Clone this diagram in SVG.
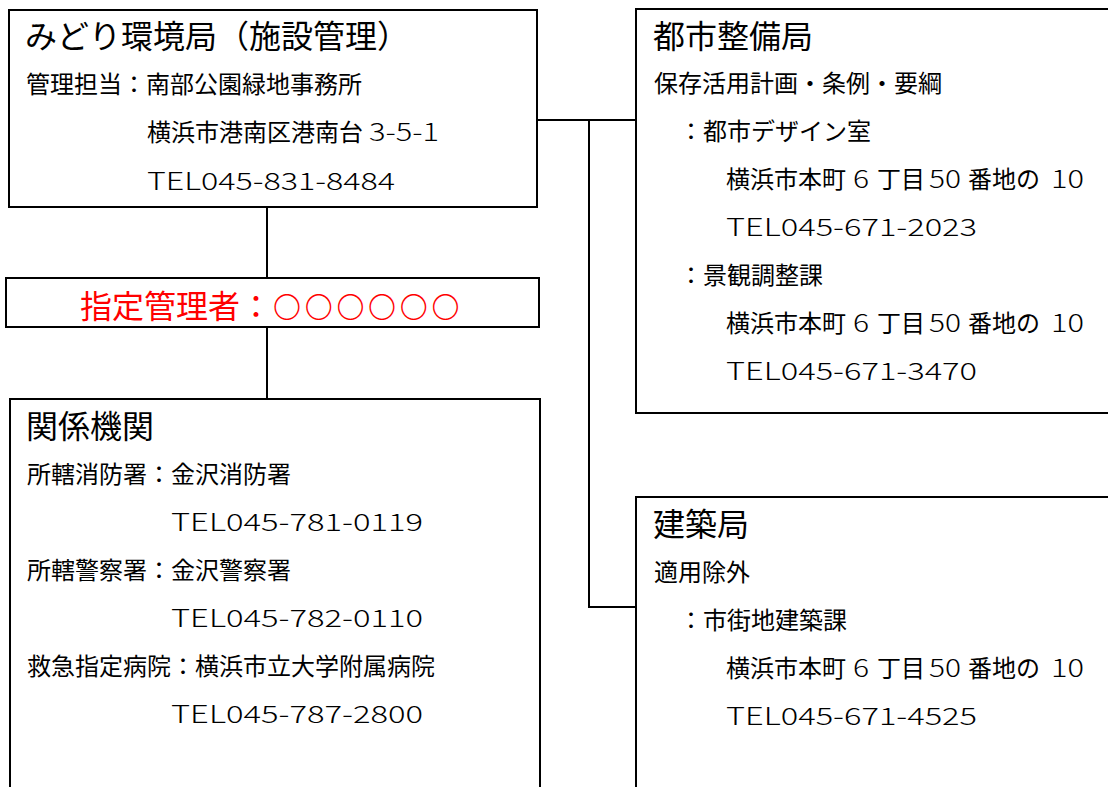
<svg xmlns="http://www.w3.org/2000/svg" width="1108" height="787" viewBox="0 0 1108 787">
<style>
.box{fill:#fff;stroke:#000;stroke-width:2}
.t{font-family:"Noto Sans CJK JP","Noto Sans CJK SC",sans-serif;font-size:24px;fill:#000}
.h{font-size:32px}
.red{fill:#f00}
.n{font-weight:300}
.c{font-size:28px;font-weight:300;letter-spacing:3.7px}
.conn line,.conn polyline{stroke:#000;stroke-width:2;fill:none}
</style>
<rect width="1108" height="787" fill="#fff"/>
<g id="connectors" class="conn">
<line x1="267" y1="207" x2="267" y2="278"/>
<line x1="267" y1="327" x2="267" y2="399"/>
<line x1="537" y1="120" x2="636" y2="120"/>
<polyline points="589,120 589,607 636,607"/>
</g>
<g id="midori">
<rect class="box" x="9" y="10" width="528" height="197"/>
<text class="t h" x="25" y="48">みどり環境局（施設管理）</text>
<text class="t" x="26" y="93">管理担当：南部公園緑地事務所</text>
<text class="t" x="147" y="141">横浜市港南区港南台<tspan class="n" x="369" textLength="70" lengthAdjust="spacingAndGlyphs">3-5-1</tspan></text>
<text class="t n" x="147" y="190" textLength="248" lengthAdjust="spacingAndGlyphs">TEL045-831-8484</text>
</g>
<g id="shitei">
<rect class="box" x="6" y="278" width="533" height="49"/>
<text class="t h red" x="80" y="318">指定管理者：<tspan class="c" x="273">〇〇〇〇〇〇</tspan></text>
</g>
<g id="kankei">
<rect class="box" x="10" y="399" width="530" height="400"/>
<text class="t h" x="26" y="438">関係機関</text>
<text class="t" x="27" y="483">所轄消防署：金沢消防署</text>
<text class="t n" x="171" y="531" textLength="252" lengthAdjust="spacingAndGlyphs">TEL045-781-0119</text>
<text class="t" x="27" y="579">所轄警察署：金沢警察署</text>
<text class="t n" x="171" y="627" textLength="252" lengthAdjust="spacingAndGlyphs">TEL045-782-0110</text>
<text class="t" x="27" y="675">救急指定病院：横浜市立大学附属病院</text>
<text class="t n" x="171" y="723" textLength="252" lengthAdjust="spacingAndGlyphs">TEL045-787-2800</text>
</g>
<g id="toshi">
<rect class="box" x="636" y="9" width="500" height="404"/>
<text class="t h" x="653" y="48">都市整備局</text>
<text class="t" x="654" y="92">保存活用計画・条例・要綱</text>
<text class="t" x="679" y="140">：都市デザイン室</text>
<text class="t" x="726" y="188">横浜市本町<tspan class="n" x="853" textLength="16" lengthAdjust="spacingAndGlyphs">6</tspan><tspan x="877">丁目</tspan><tspan class="n" x="929" textLength="32" lengthAdjust="spacingAndGlyphs">50</tspan><tspan x="968">番地の</tspan><tspan class="n" x="1051" textLength="33" lengthAdjust="spacingAndGlyphs">10</tspan></text>
<text class="t n" x="726" y="236" textLength="251" lengthAdjust="spacingAndGlyphs">TEL045-671-2023</text>
<text class="t" x="679" y="284">：景観調整課</text>
<text class="t" x="726" y="332">横浜市本町<tspan class="n" x="853" textLength="16" lengthAdjust="spacingAndGlyphs">6</tspan><tspan x="877">丁目</tspan><tspan class="n" x="929" textLength="32" lengthAdjust="spacingAndGlyphs">50</tspan><tspan x="968">番地の</tspan><tspan class="n" x="1051" textLength="33" lengthAdjust="spacingAndGlyphs">10</tspan></text>
<text class="t n" x="726" y="380" textLength="251" lengthAdjust="spacingAndGlyphs">TEL045-671-3470</text>
</g>
<g id="kenchiku">
<rect class="box" x="636" y="497" width="500" height="400"/>
<text class="t h" x="653" y="536">建築局</text>
<text class="t" x="654" y="581">適用除外</text>
<text class="t" x="679" y="629">：市街地建築課</text>
<text class="t" x="726" y="677">横浜市本町<tspan class="n" x="853" textLength="16" lengthAdjust="spacingAndGlyphs">6</tspan><tspan x="877">丁目</tspan><tspan class="n" x="929" textLength="32" lengthAdjust="spacingAndGlyphs">50</tspan><tspan x="968">番地の</tspan><tspan class="n" x="1051" textLength="33" lengthAdjust="spacingAndGlyphs">10</tspan></text>
<text class="t n" x="726" y="725" textLength="251" lengthAdjust="spacingAndGlyphs">TEL045-671-4525</text>
</g>
</svg>
